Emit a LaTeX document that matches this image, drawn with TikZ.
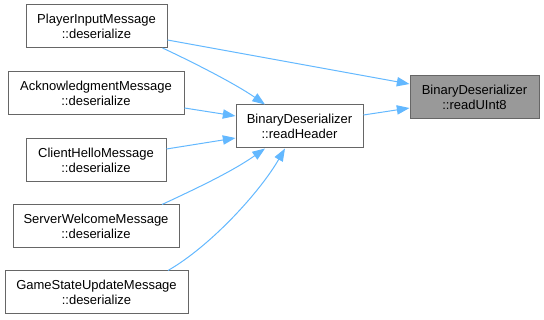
\documentclass[tikz,border=0pt]{standalone}
\usepackage{fontspec}
\setmainfont{Liberation Sans}
\usetikzlibrary{arrows.meta,calc}
\definecolor{edgeblue}{HTML}{63B8FF}
\definecolor{boxline}{HTML}{666666}
\definecolor{boxfill}{HTML}{999999}

\begin{document}
\begin{tikzpicture}[x=0.75pt,y=0.75pt,
        fn/.style={draw=boxline,line width=0.75pt,fill=white,minimum height=32.25pt,
                   inner sep=0pt,align=center,font=\fontsize{9.75}{11.25}\selectfont},
        cur/.style={fn,fill=boxfill},
        call/.style={draw=edgeblue,line width=0.75pt,-{Triangle[length=9.5pt,width=7pt]}}]
        \useasboundingbox (0,0) rectangle (544,-320);
        % callers on the left
        \node[fn,minimum width=105.75pt] (pim) at (96.5,-26)  {PlayerInputMessage\\::deserialize};
        \node[fn,minimum width=132pt]    (ack) at (96,-93)    {AcknowledgmentMessage\\::deserialize};
        \node[fn,minimum width=105pt]    (chm) at (96,-160)   {ClientHelloMessage\\::deserialize};
        \node[fn,minimum width=124.5pt]  (swm) at (96,-226.5) {ServerWelcomeMessage\\::deserialize};
        \node[fn,minimum width=137.25pt] (gsu) at (96.5,-292.5) {GameStateUpdateMessage\\::deserialize};
        \node[fn,minimum width=95.25pt]  (hdr) at (299.5,-126.5) {BinaryDeserializer\\::readHeader};
        \node[cur,minimum width=96.75pt] (u8)  at (474.5,-97) {BinaryDeserializer\\::readUInt8};
        % calls
        \draw[call] ($(pim.east)+(0,-14)$) -- ($(u8.west)+(0,13)$);
        \draw[call] ($(pim.south)+(66,0)$) .. controls +(-25:35) and +(145:35) .. ($(hdr.north)+(-34.5,0)$);
        \draw[call] ($(ack.east)+(0,-15)$) -- ($(hdr.west)+(0,10.5)$);
        \draw[call] ($(chm.east)+(0,11)$) -- ($(hdr.west)+(0,-11.5)$);
        \draw[call] ($(swm.north)+(66,0)$) .. controls +(25:40) and +(215:40) .. ($(hdr.south)+(-34.5,0)$);
        \draw[call] ($(gsu.north)+(71.5,0)$) .. controls +(30:50) and +(240:50) .. ($(hdr.south)+(-14.5,0)$);
        \draw[call] ($(hdr.east)+(0,11.5)$) -- ($(u8.west)+(0,-11)$);
\end{tikzpicture}
\end{document}
